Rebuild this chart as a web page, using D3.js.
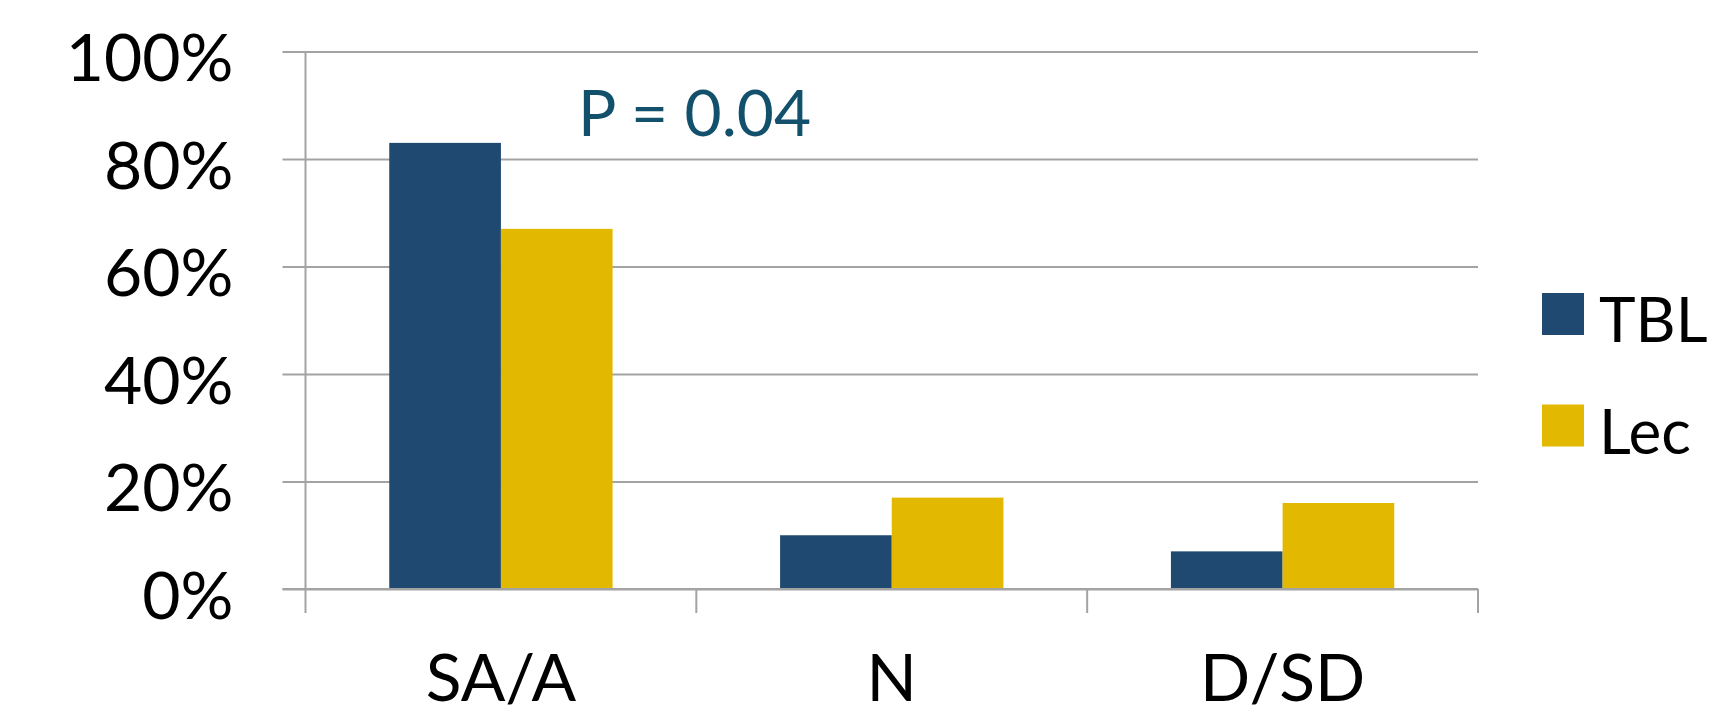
<!DOCTYPE html>
<html>
<head>
<meta charset="utf-8">
<script src="https://cdn.jsdelivr.net/npm/d3@7"></script>
<style>
  html, body { margin: 0; padding: 0; background: #fff; }
  svg { display: block; }
  text { font-family: Lato, "Open Sans", sans-serif; }
</style>
</head>
<body>
<svg id="chart" width="1715" height="716"></svg>
<script>
// Response categories and share of respondents per teaching format
const categories = ["SA/A", "N", "D/SD"];
const seriesNames = ["TBL", "Lec"];
const tblValues = [0.83, 0.10, 0.07];
const lecValues = [0.67, 0.17, 0.16];
const yTicks = [0, 0.2, 0.4, 0.6, 0.8, 1.0];
const annotation = "P = 0.04";

const colors = { TBL: "#1F4970", Lec: "#E3B800" };
const gridColor = "#A3A3A3";

const svg = d3.select("#chart");
const plot = { left: 305.5, right: 1478, top: 51.5, bottom: 589 };

const x = d3.scaleBand().domain(categories).range([plot.left, plot.right]).padding(0);
// Two bars per category with a 150% gap between groups
const xInner = d3.scaleBand().domain(seriesNames).range([0, x.bandwidth()])
  .paddingInner(0).paddingOuter(0.75);
const y = d3.scaleLinear().domain([0, 1]).range([plot.bottom, plot.top]);

// Horizontal gridlines with short ticks left of the axis
const yAxis = d3.axisLeft(y).tickValues(yTicks).tickFormat(d3.format(".0%"))
  .tickSize(-(plot.right - plot.left)).tickPadding(0);
const gy = svg.append("g").attr("transform", `translate(${plot.left},0)`).call(yAxis);
gy.select(".domain").remove();
gy.selectAll(".tick line").attr("x1", -23).attr("stroke", gridColor).attr("stroke-width", 2);
gy.selectAll(".tick text").attr("x", -72).attr("dy", 29)
  .attr("font-size", 66).attr("fill", "#000").attr("text-anchor", "end")
  .style("font-family", "Lato, 'Open Sans', sans-serif");

// Vertical value axis line
svg.append("line")
  .attr("x1", plot.left).attr("x2", plot.left)
  .attr("y1", plot.top).attr("y2", plot.bottom)
  .attr("stroke", gridColor).attr("stroke-width", 2);

// Bars
const rows = categories.map((c, i) => ({ cat: c, TBL: tblValues[i], Lec: lecValues[i] }));
const groups = svg.append("g").selectAll("g").data(rows).join("g")
  .attr("transform", d => `translate(${x(d.cat)},0)`);
groups.selectAll("rect")
  .data(d => seriesNames.map(s => ({ s, v: d[s] })))
  .join("rect")
  .attr("x", d => xInner(d.s))
  .attr("width", xInner.bandwidth())
  .attr("y", d => y(d.v))
  .attr("height", d => y(0) - y(d.v))
  .attr("fill", d => colors[d.s]);

// Category axis along zero with ticks between groups
const xAxis = d3.axisBottom(x).tickSize(0).tickPadding(0);
const gx = svg.append("g").attr("transform", `translate(0,${plot.bottom})`).call(xAxis);
gx.select(".domain").remove();
gx.selectAll(".tick text").attr("y", 112).attr("dy", 0)
  .attr("font-size", 66).attr("fill", "#000")
  .style("font-family", "Lato, 'Open Sans', sans-serif");
svg.append("line")
  .attr("x1", plot.left - 23).attr("x2", plot.right)
  .attr("y1", plot.bottom).attr("y2", plot.bottom)
  .attr("stroke", gridColor).attr("stroke-width", 2);
const boundaries = categories.map(c => x(c)).concat([x.range()[1]]);
svg.append("g").selectAll("line").data(boundaries).join("line")
  .attr("x1", d => d).attr("x2", d => d)
  .attr("y1", plot.bottom).attr("y2", plot.bottom + 24)
  .attr("stroke", gridColor).attr("stroke-width", 2);

// Significance annotation
svg.append("text")
  .attr("x", 578).attr("y", 136)
  .attr("font-size", 64).attr("fill", "#13506B")
  .text(annotation);

// Legend
const legend = svg.append("g").attr("transform", "translate(1542,293)");
const li = legend.selectAll("g").data(seriesNames).join("g")
  .attr("transform", (d, i) => `translate(0,${i * 111.5})`);
li.append("rect").attr("width", 42).attr("height", 42).attr("fill", d => colors[d]);
li.append("text").attr("x", 57).attr("y", 49)
  .attr("font-size", 62).attr("fill", "#000").text(d => d);
</script>
</body>
</html>
